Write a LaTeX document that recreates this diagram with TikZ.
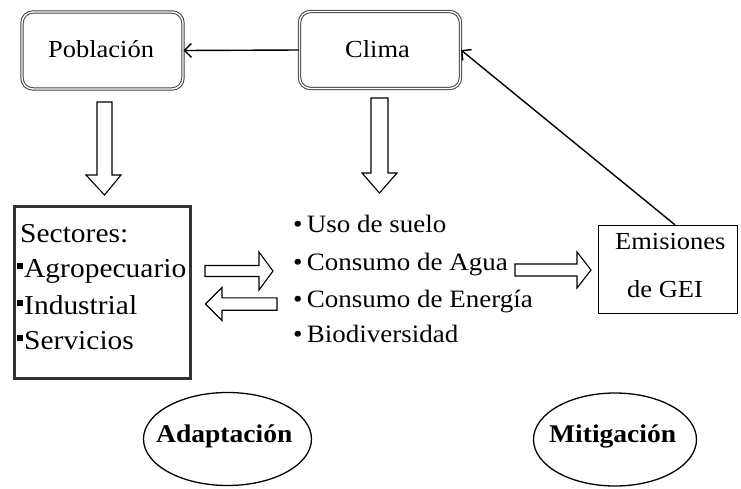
\documentclass[tikz,border=0pt]{standalone}
\usepackage{fontspec}
\setmainfont[FakeStretch=1.08]{Liberation Serif}
\usetikzlibrary{shapes.geometric,arrows.meta}
\newcommand\sqbul{\rule[8.5pt]{6pt}{6pt}\hspace{1pt}}
\begin{document}
\begin{tikzpicture}[x=1pt,y=-1pt,
  roundbox/.style={draw=black!75, double=white, double distance=1.4pt, line width=1pt,
    rounded corners=11pt, inner sep=0, minimum width=161pt, minimum height=77pt},
  txt/.style={anchor=base west, inner sep=0, font=\fontsize{24.5}{29}\selectfont},
  listtxt/.style={anchor=base west, inner sep=0, font=\fontsize{25}{29}\selectfont},
  bigtxt/.style={anchor=base west, inner sep=0, font=\fontsize{27.3}{33}\selectfont},
  boldtxt/.style={anchor=base west, inner sep=0, font=\fontsize{25.5}{29}\selectfont\bfseries},
  hollow/.style={draw=black, line width=1.1pt, fill=white, line join=miter},
  conn/.style={line width=1.4pt, -{Straight Barb[length=7pt,width=14pt]}},
  oval/.style={draw=black, line width=1.3pt, ellipse, inner sep=0}
]
\useasboundingbox (0,0) rectangle (741,488);

% boxes
\node[roundbox] (pob) at (102.5,50.5) {};
\node[roundbox] (clima) at (380,50) {};
\node[draw=black!80, line width=3pt, minimum width=176pt, minimum height=172pt, inner sep=0] (sect) at (102.5,292.5) {};
\node[draw=black, line width=1.3pt, minimum width=139pt, minimum height=88pt, inner sep=0] (emis) at (668,269.5) {};

% texts in boxes
\node[txt] (tpob) at (48,57) {Población};
\node[txt] (tclima) at (345,57) {Clima};
\node[bigtxt] (ts0) at (20,242) {Sectores:};
\node[bigtxt] (ts1) at (17,277) {\sqbul Agropecuario};
\node[bigtxt] (ts2) at (17,314) {\sqbul Industrial};
\node[bigtxt] (ts3) at (17,349) {\sqbul Servicios};
\node[txt] (te1) at (615,249) {Emisiones};
\node[txt] (te2) at (627,297) {de GEI};

% middle list
\node[listtxt] (l1) at (293,232) {•\,Uso de suelo};
\node[listtxt] (l2) at (293,270) {•\,Consumo de Agua};
\node[listtxt] (l3) at (293,307) {•\,Consumo de Energía};
\node[listtxt] (l4) at (293,342) {•\,Biodiversidad};

% ellipses
\node[oval, minimum width=168pt, minimum height=93pt] (adap) at (227.5,439) {};
\node[oval, minimum width=163pt, minimum height=93pt] (miti) at (615,439.5) {};
\node[boldtxt] (tadap) at (156,442) {Adaptación};
\node[boldtxt] (tmiti) at (549,442) {Mitigación};

% connectors
\draw[conn] (clima.west) -- (pob.east);
\draw[conn] ([xshift=7pt]emis.north) -- (clima.east);

% hollow block arrows
\draw[hollow] (97,102) -- (112,102) -- (112,175) -- (121,175) -- (104.5,195) -- (86,175) -- (97,175) -- cycle;
\draw[hollow] (371,98) -- (388,98) -- (388,173) -- (397,173) -- (379.5,193) -- (362,173) -- (371,173) -- cycle;
\draw[hollow] (205,265.5) -- (259,265.5) -- (259,252) -- (273,271) -- (259,290) -- (259,276.5) -- (205,276.5) -- cycle;
\draw[hollow] (277,297.8) -- (222,297.8) -- (222,287.5) -- (205.5,304) -- (222,320.5) -- (222,310.2) -- (277,310.2) -- cycle;
\draw[hollow] (515,264) -- (577,264) -- (577,252) -- (591,270) -- (577,288) -- (577,276) -- (515,276) -- cycle;
\end{tikzpicture}
\end{document}
